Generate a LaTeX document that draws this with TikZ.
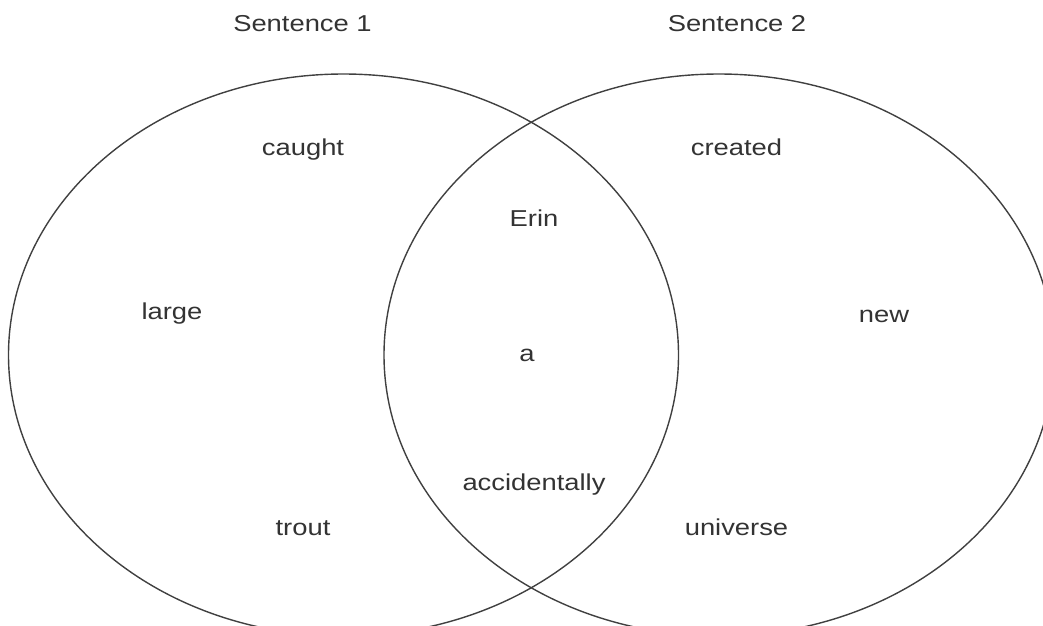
\documentclass[tikz,border=0pt]{standalone}
\usepackage{fontspec}
\setmainfont[FakeStretch=1.19]{Liberation Sans}
\begin{document}
\begin{tikzpicture}[x=1pt,y=-1pt,
  lbl/.style={font=\fontsize{23}{27}\selectfont, text=black!80, inner sep=0pt, anchor=base},
  ring/.style={draw=black!75, line width=1.4pt}]
\useasboundingbox (0,0) rectangle (1043,625);
\begin{scope}
\clip (0,0) rectangle (1043,625);
\draw[ring] (343.5,355) ellipse [x radius=335, y radius=281];
\draw[ring] (719,355) ellipse [x radius=335, y radius=281];
\end{scope}
\node[lbl] (s1) at (302.5,31) {Sentence 1};
\node[lbl] (s2) at (737,31) {Sentence 2};
\node[lbl] (caught) at (303,155) {caught};
\node[lbl] (created) at (736.5,155) {created};
\node[lbl] (erin) at (534,226.5) {Erin};
\node[lbl] (large) at (172,319) {large};
\node[lbl] (new) at (884,322) {new};
\node[lbl] (a) at (527,361) {a};
\node[lbl] (acc) at (534,490.5) {accidentally};
\node[lbl] (trout) at (303,535.5) {trout};
\node[lbl] (univ) at (736.5,535.5) {universe};
\end{tikzpicture}
\end{document}
